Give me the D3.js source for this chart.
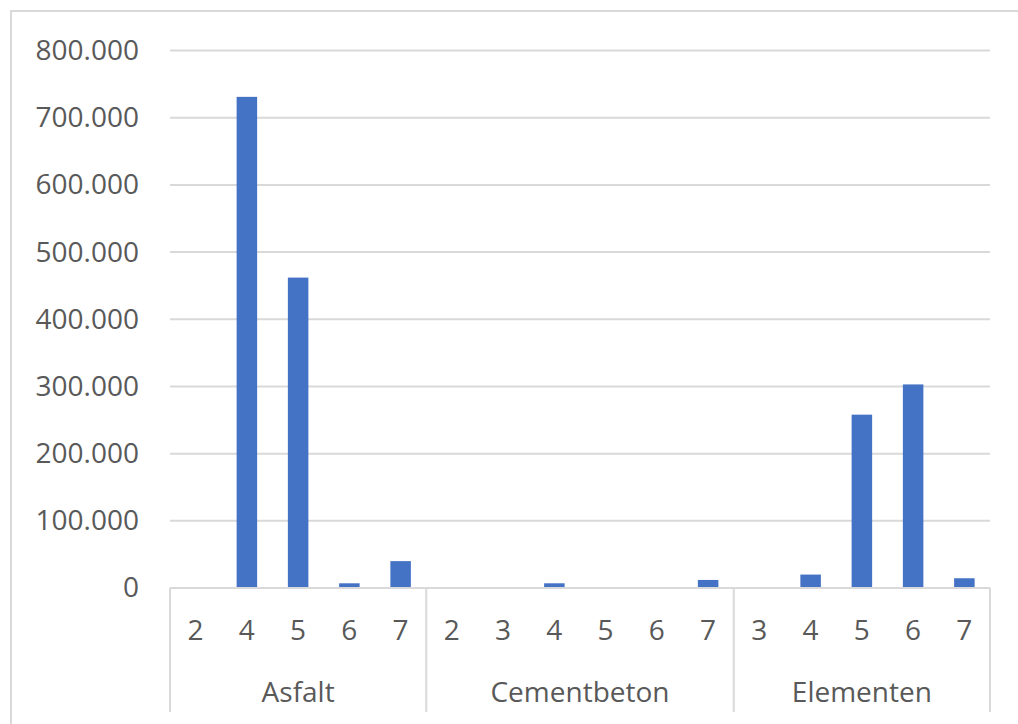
<!DOCTYPE html>
<html>
<head>
<meta charset="utf-8">
<script src="https://cdn.jsdelivr.net/npm/d3@7"></script>
<style>
  html, body { margin: 0; padding: 0; background: #ffffff; }
  svg { display: block; }
  text { font-family: "Open Sans", "Noto Sans", sans-serif; fill: #595959; }
</style>
</head>
<body>
<svg id="chart" width="1018" height="724"></svg>
<script>
// Road surface types and the classes within each
const groups = ["Asfalt", "Cementbeton", "Elementen"];
const asfaltClasses = ["2", "4", "5", "6", "7"];
const cementbetonClasses = ["2", "3", "4", "5", "6", "7"];
const elementenClasses = ["3", "4", "5", "6", "7"];

// Quantities per class
const asfaltValues = [0, 731000, 462000, 7000, 40000];
const cementbetonValues = [0, 0, 7000, 0, 0, 12000];
const elementenValues = [0, 20000, 258000, 303000, 14500];

const yTicks = [0, 100000, 200000, 300000, 400000, 500000, 600000, 700000, 800000];

const classLists = [asfaltClasses, cementbetonClasses, elementenClasses];
const valueLists = [asfaltValues, cementbetonValues, elementenValues];

const rows = [];
groups.forEach((g, gi) => {
  classLists[gi].forEach((c, ci) => {
    rows.push({ group: g, cls: c, key: g + "|" + c, value: valueLists[gi][ci] });
  });
});

const svg = d3.select("#chart");
const W = 1018, H = 724;
const plot = { left: 170, right: 990, top: 50.5, bottom: 588 };
const fontSize = 28;

// Outer chart frame (runs past the right and bottom edges)
svg.append("rect")
  .attr("x", 11).attr("y", 11)
  .attr("width", W + 20).attr("height", H + 20)
  .attr("fill", "none")
  .attr("stroke", "#d9d9d9")
  .attr("stroke-width", 2);

const x = d3.scaleBand()
  .domain(rows.map(d => d.key))
  .range([plot.left, plot.right])
  .paddingInner(0.6)
  .paddingOuter(0.3);

const y = d3.scaleLinear()
  .domain([0, 800000])
  .range([plot.bottom, plot.top]);

const nl = d3.formatLocale({ decimal: ",", thousands: ".", grouping: [3], currency: ["€", ""] });
const fmt = nl.format(",");

// Gridlines
svg.append("g")
  .selectAll("line")
  .data(yTicks.filter(t => t > 0))
  .join("line")
  .attr("x1", plot.left).attr("x2", plot.right)
  .attr("y1", d => y(d)).attr("y2", d => y(d))
  .attr("stroke", "#d9d9d9")
  .attr("stroke-width", 2);

// Y axis labels
const yAxis = d3.axisLeft(y).tickValues(yTicks).tickFormat(fmt).tickSize(0).tickPadding(0);
const yg = svg.append("g").attr("transform", `translate(139,0)`).call(yAxis);
yg.select(".domain").remove();
yg.selectAll("text")
  .attr("font-size", fontSize)
  .attr("fill", "#595959")
  .style("font-family", "\"Open Sans\", sans-serif");

// Bars
svg.append("g")
  .selectAll("rect")
  .data(rows)
  .join("rect")
  .attr("x", d => x(d.key))
  .attr("width", x.bandwidth())
  .attr("y", d => y(d.value))
  .attr("height", d => y(0) - y(d.value))
  .attr("fill", "#4472c4");

// Baseline
svg.append("line")
  .attr("x1", plot.left).attr("x2", plot.right)
  .attr("y1", plot.bottom).attr("y2", plot.bottom)
  .attr("stroke", "#d9d9d9")
  .attr("stroke-width", 2);

// Category labels
svg.append("g")
  .selectAll("text")
  .data(rows)
  .join("text")
  .attr("x", d => x(d.key) + x.bandwidth() / 2)
  .attr("y", 630)
  .attr("dy", "0.35em")
  .attr("text-anchor", "middle")
  .attr("font-size", fontSize)
  .text(d => d.cls);

// Group dividers and labels
let start = 0;
const bounds = [];
groups.forEach((g, gi) => {
  const n = classLists[gi].length;
  const first = rows[start].key;
  const last = rows[start + n - 1].key;
  const x0 = x(first) - x.step() * x.paddingInner() / 2 - (start === 0 ? x.step() * (x.paddingOuter() - x.paddingInner() / 2) : 0);
  const x1 = x(last) + x.bandwidth() + x.step() * x.paddingInner() / 2 + (start + n === rows.length ? x.step() * (x.paddingOuter() - x.paddingInner() / 2) : 0);
  bounds.push({ g, x0, x1 });
  start += n;
});

const edges = [bounds[0].x0].concat(bounds.map(b => b.x1));
svg.append("g")
  .selectAll("line")
  .data(edges)
  .join("line")
  .attr("x1", d => d).attr("x2", d => d)
  .attr("y1", plot.bottom).attr("y2", 712)
  .attr("stroke", "#d9d9d9")
  .attr("stroke-width", 2);

svg.append("g")
  .selectAll("text")
  .data(bounds)
  .join("text")
  .attr("x", d => (d.x0 + d.x1) / 2)
  .attr("y", 692)
  .attr("dy", "0.35em")
  .attr("text-anchor", "middle")
  .attr("font-size", fontSize)
  .text(d => d.g);
</script>
</body>
</html>
